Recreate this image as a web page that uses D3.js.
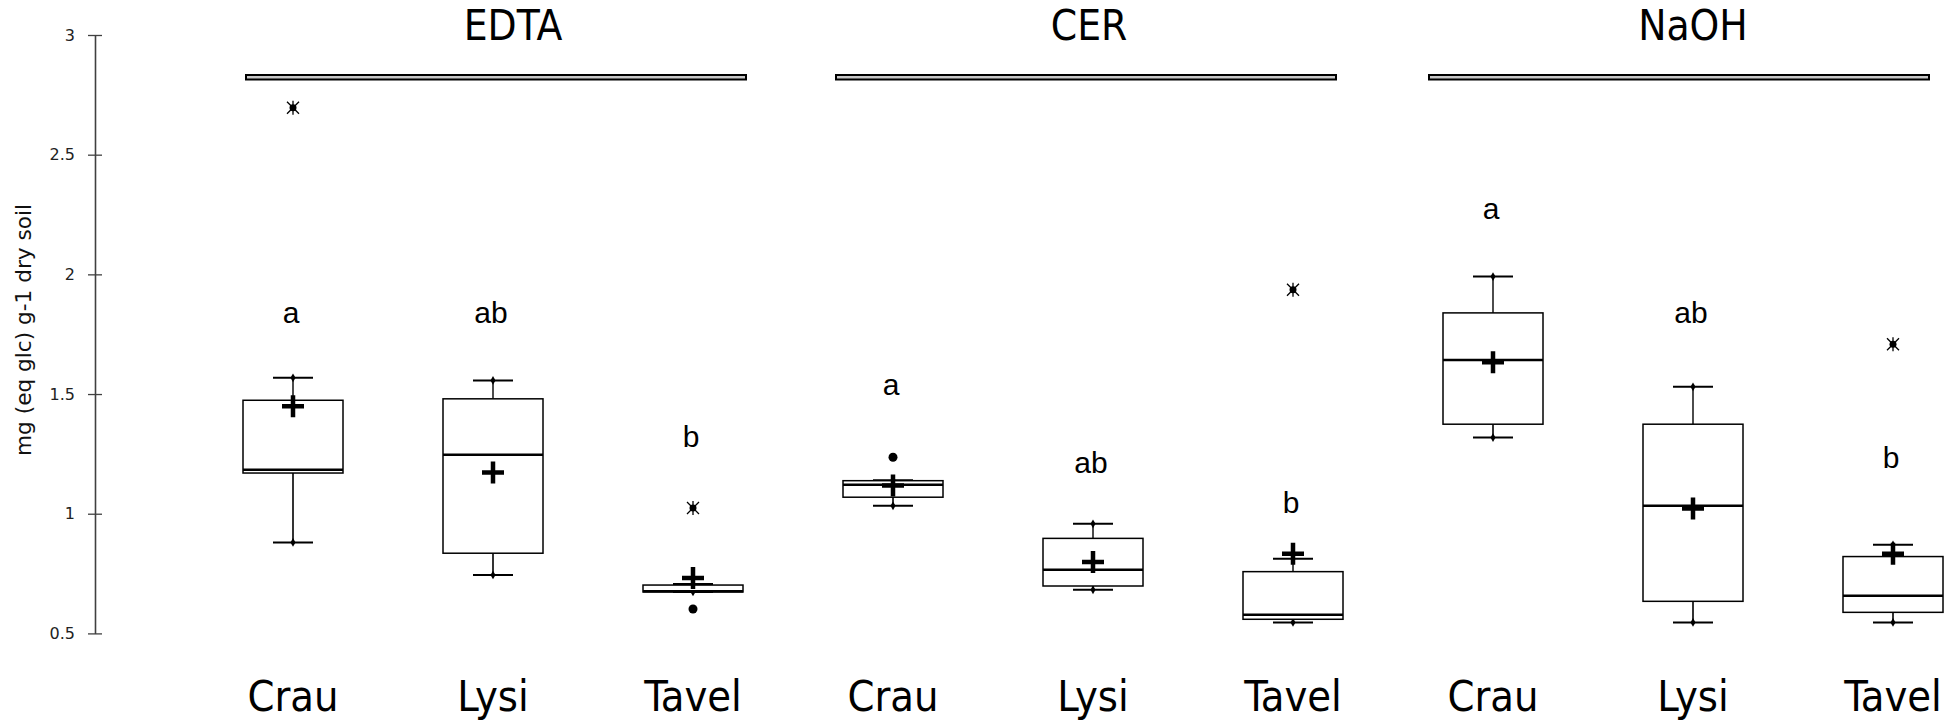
<!DOCTYPE html>
<html>
<head>
<meta charset="utf-8">
<script src="https://cdn.jsdelivr.net/npm/d3@7"></script>
<style>
  html, body { margin: 0; padding: 0; background: #fff; }
  svg { display: block; }
</style>
</head>
<body>
<svg id="chart" width="1959" height="728"></svg>
<script>
// ---------------- data ----------------
const groups = ["EDTA", "CER", "NaOH"];
const sites = ["Crau", "Lysi", "Tavel"];
const yTicks = [0.5, 1, 1.5, 2, 2.5, 3];
const yLabel = "mg (eq glc) g-1 dry soil";

// per box, order: EDTA Crau, Lysi, Tavel, CER Crau, Lysi, Tavel, NaOH Crau, Lysi, Tavel
const whiskerLow  = [0.880, 0.744, 0.673, 1.033, 0.682, 0.546, 1.318, 0.546, 0.546];
const q1          = [1.170, 0.835, 0.673, 1.069, 0.698, 0.559, 1.374, 0.634, 0.588];
const median      = [1.184, 1.246, 0.676, 1.121, 0.766, 0.578, 1.642, 1.033, 0.657];
const q3          = [1.474, 1.480, 0.702, 1.138, 0.897, 0.758, 1.839, 1.374, 0.821];
const whiskerHigh = [1.568, 1.557, 0.706, 1.140, 0.958, 0.812, 1.991, 1.530, 0.870];
const means       = [1.449, 1.172, 0.731, 1.118, 0.798, 0.833, 1.633, 1.022, 0.833];
// outliers: [box index, value, kind]
const outliers = [
  [0, 2.696, "star"],
  [2, 1.024, "star"],
  [2, 0.602, "dot"],
  [3, 1.236, "dot"],
  [5, 1.936, "star"],
  [8, 1.708, "star"]
];
// significance letters (value at text baseline)
const letters     = ["a", "ab", "b", "a", "ab", "b", "a", "ab", "b"];
const letterValue = [1.796, 1.796, 1.277, 1.495, 1.172, 1.005, 2.230, 1.796, 1.191];

// ---------------- layout ----------------
const svg = d3.select("#chart");
const keys = [];
groups.forEach(g => sites.forEach(s => keys.push(g + "|" + s)));

const x = d3.scalePoint().domain(keys).range([293, 1893]);
const y = d3.scaleLinear().domain([0.5, 3]).range([633.4, 35]);
const axisX = 95;
const boxW = 100;
const capW = 40;

const condensed = "'DejaVu Sans Condensed', 'DejaVu Sans', sans-serif";

// y axis
const yAxis = d3.axisLeft(y).tickValues(yTicks).tickSizeInner(7).tickSizeOuter(0).tickPadding(13)
  .tickFormat(d => String(d));
const gAxis = svg.append("g").attr("transform", `translate(${axisX},0)`).call(yAxis);
gAxis.select(".domain").attr("stroke", "#404040").attr("stroke-width", 1.6);
gAxis.selectAll(".tick line").attr("x1", 7).attr("stroke", "#404040").attr("stroke-width", 1.3);
gAxis.selectAll(".tick text")
  .attr("font-family", "'DejaVu Sans', sans-serif")
  .attr("font-size", 16)
  .attr("fill", "#222");

// y label
svg.append("text")
  .attr("transform", "translate(31,330) rotate(-90)")
  .attr("text-anchor", "middle")
  .attr("font-family", condensed)
  .attr("font-stretch", "condensed")
  .attr("font-size", 22)
  .attr("textLength", 252)
  .attr("lengthAdjust", "spacingAndGlyphs")
  .attr("fill", "#111")
  .text(yLabel);

// group titles and double header lines
const titleShift = [20, -4, 0];
const lineShift = [0, -10, -17];
groups.forEach((g, gi) => {
  const first = x(g + "|" + sites[0]);
  const mid = x(g + "|" + sites[1]);
  const last = x(g + "|" + sites[2]);
  svg.append("text")
    .attr("x", mid + titleShift[gi])
    .attr("y", 40)
    .attr("text-anchor", "middle")
    .attr("font-family", condensed)
    .attr("font-stretch", "condensed")
    .attr("font-size", 42)
    .attr("fill", "#000")
    .text(g);
  svg.append("rect")
    .attr("x", first - 47 + lineShift[gi])
    .attr("y", 75)
    .attr("width", last - first + 100)
    .attr("height", 4.5)
    .attr("fill", "#c8c8c8")
    .attr("stroke", "#000")
    .attr("stroke-width", 2);
});

// category labels
keys.forEach((k, i) => {
  svg.append("text")
    .attr("x", x(k))
    .attr("y", 711)
    .attr("text-anchor", "middle")
    .attr("font-family", condensed)
    .attr("font-stretch", "condensed")
    .attr("font-size", 43)
    .attr("fill", "#000")
    .text(k.split("|")[1]);
});

// boxes
const boxes = svg.append("g");
keys.forEach((k, i) => {
  const cx = x(k);
  const g = boxes.append("g");
  // whiskers
  g.append("line").attr("x1", cx).attr("x2", cx).attr("y1", y(q3[i])).attr("y2", y(whiskerHigh[i]))
    .attr("stroke", "#000").attr("stroke-width", 1.4);
  g.append("line").attr("x1", cx).attr("x2", cx).attr("y1", y(q1[i])).attr("y2", y(whiskerLow[i]))
    .attr("stroke", "#000").attr("stroke-width", 1.6);
  [whiskerHigh[i], whiskerLow[i]].forEach(v => {
    g.append("line").attr("x1", cx - capW / 2).attr("x2", cx + capW / 2).attr("y1", y(v)).attr("y2", y(v))
      .attr("stroke", "#000").attr("stroke-width", 2);
    g.append("path")
      .attr("d", d3.symbol(d3.symbolDiamond, 22)())
      .attr("transform", `translate(${cx},${y(v)})`)
      .attr("fill", "#000");
  });
  // box
  g.append("rect")
    .attr("x", cx - boxW / 2).attr("width", boxW)
    .attr("y", y(q3[i])).attr("height", Math.max(y(q1[i]) - y(q3[i]), 1))
    .attr("fill", "#fff").attr("stroke", "#000").attr("stroke-width", 1.5);
  // median
  g.append("line").attr("x1", cx - boxW / 2).attr("x2", cx + boxW / 2)
    .attr("y1", y(median[i])).attr("y2", y(median[i]))
    .attr("stroke", "#000").attr("stroke-width", 2.5);
  // mean cross
  const my = y(means[i]);
  g.append("path")
    .attr("d", `M${cx - 11},${my}H${cx + 11}M${cx},${my - 11}V${my + 11}`)
    .attr("stroke", "#000").attr("stroke-width", 4.5).attr("fill", "none");
  // letter
  svg.append("text")
    .attr("x", cx - 2).attr("y", y(letterValue[i]))
    .attr("text-anchor", "middle")
    .attr("font-family", "'Liberation Sans', Arial, sans-serif")
    .attr("font-size", 30)
    .attr("fill", "#000")
    .text(letters[i]);
});

// outliers
outliers.forEach(([bi, v, kind]) => {
  const cx = x(keys[bi]);
  const cy = y(v);
  if (kind === "dot") {
    svg.append("circle").attr("cx", cx).attr("cy", cy).attr("r", 4.5).attr("fill", "#000");
  } else {
    svg.append("path")
      .attr("d", `M${cx},${cy - 7}V${cy + 7}M${cx - 6},${cy - 6}L${cx + 6},${cy + 6}M${cx - 6},${cy + 6}L${cx + 6},${cy - 6}`)
      .attr("stroke", "#000").attr("stroke-width", 1.3).attr("fill", "none");
    svg.append("circle").attr("cx", cx).attr("cy", cy).attr("r", 3.5).attr("fill", "#000");
  }
});
</script>
</body>
</html>
